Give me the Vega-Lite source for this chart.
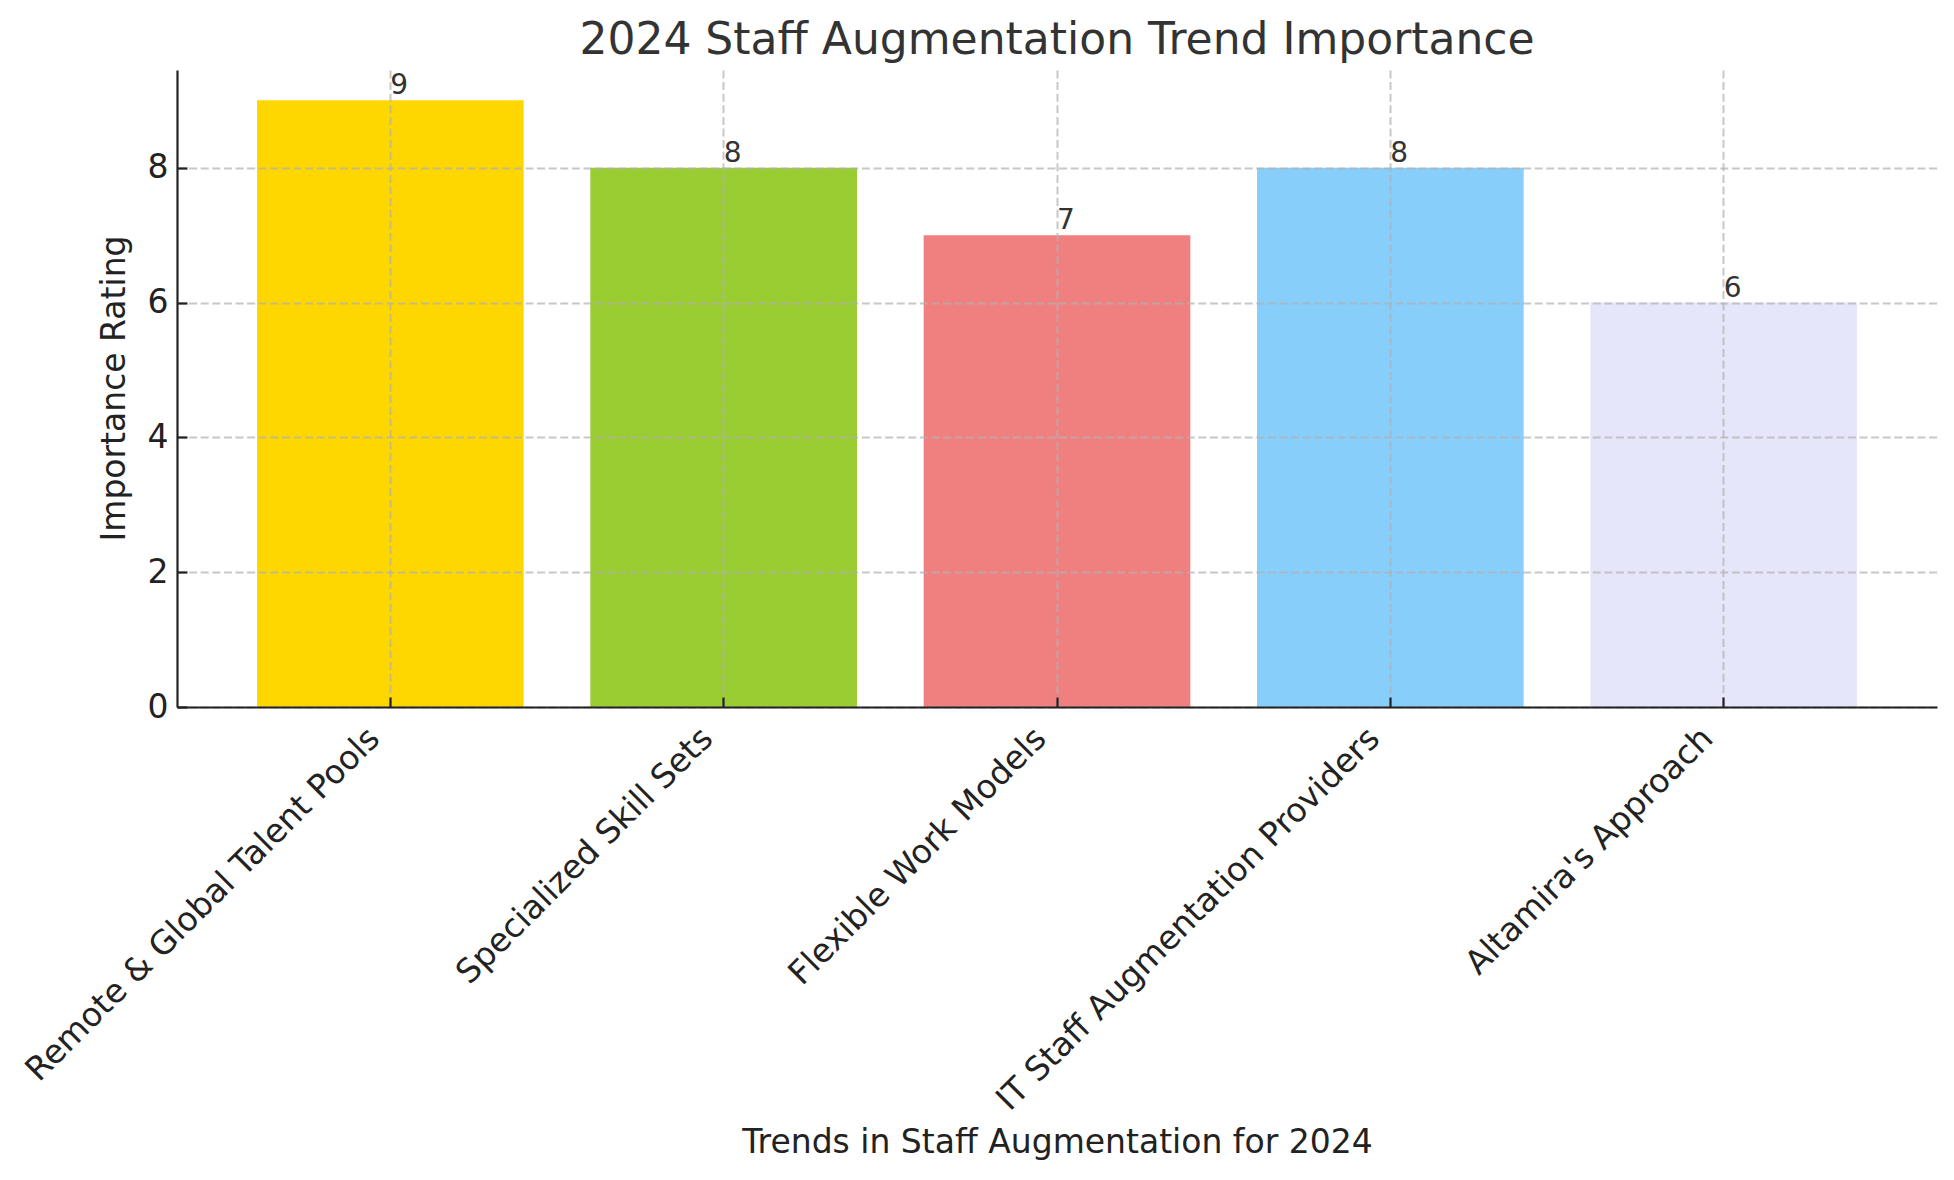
{
  "$schema": "https://vega.github.io/schema/vega-lite/v6.json",
  "width": 1760,
  "height": 637,
  "autosize": "none",
  "padding": {"left": 177, "top": 70, "right": 17, "bottom": 473},
  "background": "white",
  "title": {
    "text": "2024 Staff Augmentation Trend Importance",
    "font": "DejaVu Sans",
    "fontSize": 44,
    "fontWeight": "normal",
    "color": "#333333",
    "baseline": "alphabetic",
    "offset": 15,
    "dy": 43
  },
  "config": {
    "view": {"stroke": null},
    "font": "DejaVu Sans"
  },
  "data": {
    "values": [
      {"trend": "Remote & Global Talent Pools", "rating": 9},
      {"trend": "Specialized Skill Sets", "rating": 8},
      {"trend": "Flexible Work Models", "rating": 7},
      {"trend": "IT Staff Augmentation Providers", "rating": 8},
      {"trend": "Altamira's Approach", "rating": 6}
    ]
  },
  "encoding": {
    "x": {
      "field": "trend",
      "type": "nominal",
      "sort": null,
      "title": "Trends in Staff Augmentation for 2024",
      "scale": {"paddingInner": 0.2, "paddingOuter": 0.24},
      "axis": {
        "bandPosition": 0.5,
        "zindex": 1,
        "domainColor": "#222222",
        "domainWidth": 2.2,
        "tickColor": "#222222",
        "tickWidth": 2.2,
        "tickSize": -10,
        "labelAngle": -45,
        "labelAlign": "right",
        "labelBaseline": "alphabetic",
        "labelPadding": 43,
        "labelOffset": -9,
        "labelFontSize": 33,
        "labelColor": "#222222",
        "labelLimit": 1000,
        "grid": true,
        "gridColor": "#b0b0b0",
        "gridOpacity": 0.7,
        "gridWidth": 2,
        "gridDash": [8, 3.6],
        "titleFontSize": 33,
        "titleFontWeight": "normal",
        "titleColor": "#222222",
        "titleBaseline": "alphabetic",
        "titleY": 445
      }
    },
    "y": {
      "field": "rating",
      "type": "quantitative",
      "title": "Importance Rating",
      "scale": {"domain": [0, 9.45], "nice": false},
      "axis": {
        "values": [0, 2, 4, 6, 8],
        "zindex": 1,
        "domainColor": "#222222",
        "domainWidth": 2.2,
        "tickColor": "#222222",
        "tickWidth": 2.2,
        "tickSize": -10,
        "labelPadding": 19,
        "labelFontSize": 33,
        "labelColor": "#222222",
        "grid": true,
        "gridColor": "#b0b0b0",
        "gridOpacity": 0.7,
        "gridWidth": 2,
        "gridDash": [8, 3.6],
        "titleFontSize": 33,
        "titleFontWeight": "normal",
        "titleColor": "#222222",
        "titleBaseline": "alphabetic",
        "titleAngle": -90,
        "titleX": -53,
        "titleY": 318
      }
    }
  },
  "layer": [
    {
      "mark": {"type": "bar"},
      "encoding": {
        "color": {
          "field": "trend",
          "type": "nominal",
          "sort": null,
          "legend": null,
          "scale": {
            "domain": [
              "Remote & Global Talent Pools",
              "Specialized Skill Sets",
              "Flexible Work Models",
              "IT Staff Augmentation Providers",
              "Altamira's Approach"
            ],
            "range": ["#FFD700", "#9ACD32", "#F08080", "#87CEFA", "#E6E6FA"]
          }
        }
      }
    },
    {
      "mark": {
        "type": "text",
        "align": "left",
        "baseline": "alphabetic",
        "dy": -6,
        "fontSize": 28,
        "color": "#333333"
      },
      "encoding": {
        "text": {"field": "rating", "type": "quantitative"}
      }
    }
  ]
}
